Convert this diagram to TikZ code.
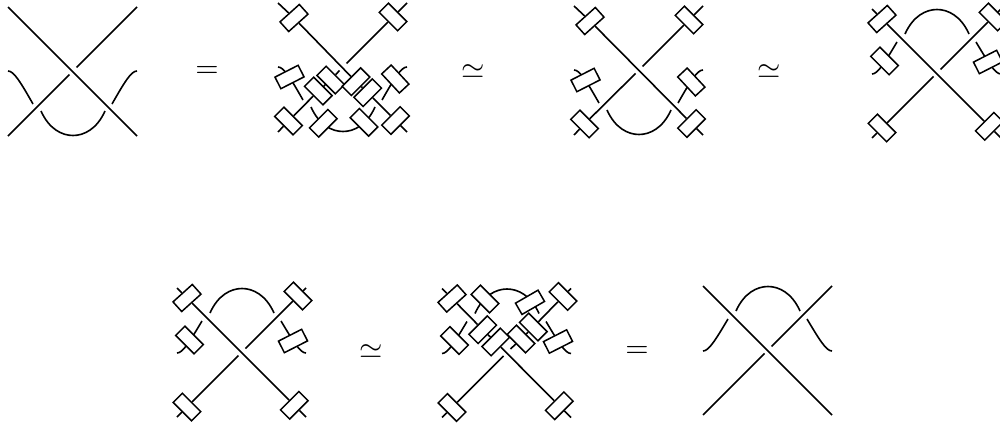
\documentclass[tikz,border=0pt]{standalone}

\tikzset{
  twist/.style={rectangle, draw, fill=white, line width=1.5pt, inner sep=0pt, minimum width=26pt, minimum height=13pt},
  strand/.style={line width=1.6pt},
  rel/.style={scale=3, inner sep=0pt},
}

% ends of the two straight strands, with the gap under the crossing
\newcommand{\crossends}{
  \coordinate (tl) at (8,7);
  \coordinate (tr) at (137,7);
  \coordinate (bl) at (8,136);
  \coordinate (br) at (137,136);
  \coordinate (gapup) at (76.5,67.5);
  \coordinate (gapdown) at (69.5,74.5);
}
\newcommand{\lowerstrands}{
  \draw[strand] (8,71) .. controls (14,71) and (21,83) .. (33,104);
  \draw[strand] (137,71) .. controls (131,71) and (124,83) .. (112,104);
  \draw[strand] (41,111) .. controls (49,129) and (62,135.5) .. (73,135.5) .. controls (84,135.5) and (97,129) .. (105,111);
}
\newcommand{\upperstrands}{
  \draw[strand] (8,72) .. controls (14,72) and (21,60) .. (33,40);
  \draw[strand] (137,72) .. controls (131,72) and (124,60) .. (112,40);
  \draw[strand] (41,32) .. controls (49,14) and (62,7.5) .. (73,7.5) .. controls (84,7.5) and (97,14) .. (105,32);
}
\newcommand{\lowerboxes}{
  \node[twist, rotate=42] (tlbox) at (24,22) {};
  \node[twist, rotate=-45] (trbox) at (123,21) {};
  \node[twist, rotate=-45] (blbox) at (18.5,125) {};
  \node[twist, rotate=45] (brbox) at (125.5,124.5) {};
  \node[twist, rotate=27] (lbox) at (19.5,81) {};
  \node[twist, rotate=-47] (rbox) at (125.3,83) {};
}
\newcommand{\upperboxes}{
  \node[twist, rotate=42] (tlbox) at (18,17) {};
  \node[twist, rotate=-45] (trbox) at (129,15) {};
  \node[twist, rotate=-45] (blbox) at (18,126) {};
  \node[twist, rotate=45] (brbox) at (125.3,124.3) {};
  \node[twist, rotate=-45] (lbox) at (20.5,59) {};
  \node[twist, rotate=27] (rbox) at (124,60) {};
}

\begin{document}
\begin{tikzpicture}[x=1pt, y=-1pt]
  \path[use as bounding box, clip] (0,0) rectangle (1000,423);

  % top row
  \begin{scope}[name prefix=a-]
    \crossends
    \lowerstrands
    \draw[strand] (tl) -- (br);
    \draw[strand] (tr) -- (gapup);
    \draw[strand] (gapdown) -- (bl);
  \end{scope}

  \node[rel] (eqa) at (207,72) {$=$};

  \begin{scope}[shift={(270,-4)}, name prefix=b-]
    \crossends
    \lowerstrands
    \lowerboxes
    \node[twist, rotate=45] (arcl) at (53.3,127.3) {};
    \node[twist, rotate=-45] (arcr) at (94,126.3) {};
    \node[twist, rotate=-45] (inla) at (60.7,84) {};
    \node[twist, rotate=-45] (inlb) at (48.3,95) {};
    \node[twist, rotate=45] (inra) at (86,85.7) {};
    \node[twist, rotate=45] (inrb) at (97.7,96.7) {};
    \draw[strand] (tl) -- (tlbox) -- (inra) -- (inrb) -- (brbox) -- (br);
    \draw[strand] (tr) -- (trbox) -- (gapup);
    \draw[strand] (gapdown) -- (inla) -- (inlb) -- (blbox) -- (bl);
  \end{scope}

  \node[rel] (simb) at (473,72) {$\simeq$};

  \begin{scope}[shift={(566,-1)}, name prefix=c-]
    \crossends
    \lowerstrands
    \lowerboxes
    \draw[strand] (tl) -- (tlbox) -- (brbox) -- (br);
    \draw[strand] (tr) -- (trbox) -- (gapup);
    \draw[strand] (gapdown) -- (blbox) -- (bl);
  \end{scope}

  \node[rel] (simc) at (769,72) {$\simeq$};

  \begin{scope}[shift={(864,2)}, name prefix=d-]
    \crossends
    \upperstrands
    \upperboxes
    \draw[strand] (tl) -- (tlbox) -- (brbox) -- (br);
    \draw[strand] (tr) -- (trbox) -- (gapup);
    \draw[strand] (gapdown) -- (blbox) -- (bl);
  \end{scope}

  % bottom row
  \begin{scope}[shift={(169,281)}, name prefix=e-]
    \crossends
    \upperstrands
    \upperboxes
    \draw[strand] (tl) -- (tlbox) -- (brbox) -- (br);
    \draw[strand] (tr) -- (trbox) -- (gapup);
    \draw[strand] (gapdown) -- (blbox) -- (bl);
  \end{scope}

  \node[rel] (sime) at (371,352) {$\simeq$};

  \begin{scope}[shift={(434,281.5)}, name prefix=f-]
    \crossends
    \upperstrands
    \upperboxes
    \node[twist, rotate=-45] (arcl) at (51,17.5) {};
    \node[twist, rotate=30] (arcr) at (96,20.8) {};
    \node[twist, rotate=-45] (inra) at (87,57.5) {};
    \node[twist, rotate=-45] (inrb) at (99.3,45.5) {};
    \node[twist, rotate=45] (inla) at (48.7,48.2) {};
    \node[twist, rotate=45] (inlb) at (61.7,60.5) {};
    \draw[strand] (tl) -- (tlbox) -- (inla) -- (inlb) -- (brbox) -- (br);
    \draw[strand] (tr) -- (trbox) -- (inrb) -- (inra) -- (gapup);
    \draw[strand] (gapdown) -- (blbox) -- (bl);
  \end{scope}

  \node[rel] (eqf) at (637,352) {$=$};

  \begin{scope}[shift={(695,279)}, name prefix=g-]
    \crossends
    \upperstrands
    \draw[strand] (tl) -- (br);
    \draw[strand] (tr) -- (gapup);
    \draw[strand] (gapdown) -- (bl);
  \end{scope}
\end{tikzpicture}
\end{document}
